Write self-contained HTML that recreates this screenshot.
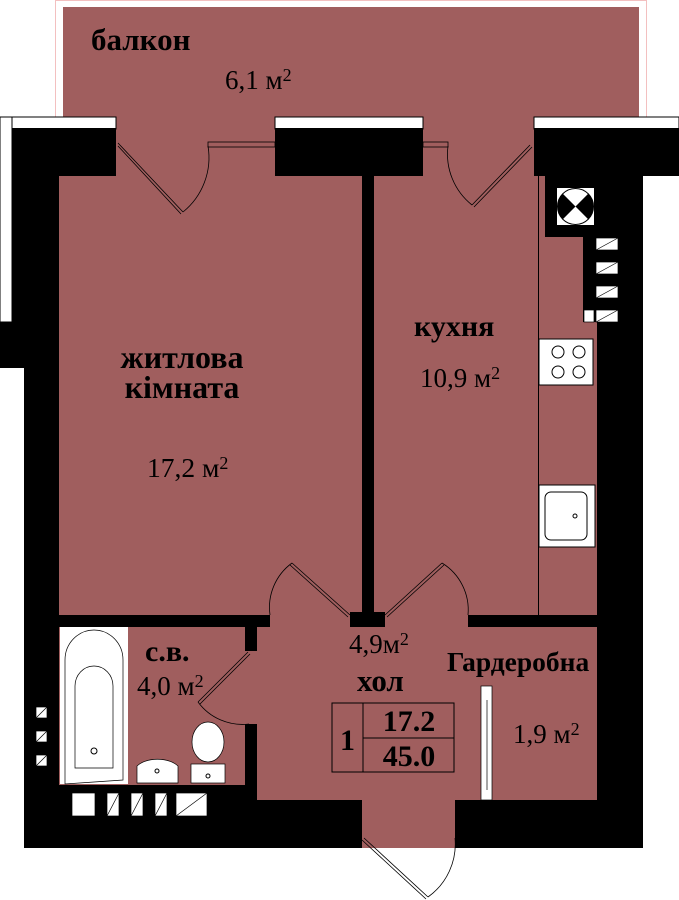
<!DOCTYPE html>
<html><head><meta charset="utf-8"><style>
html,body{margin:0;padding:0;background:#fff;width:679px;height:900px;overflow:hidden}
svg{display:block}
text{font-family:"Liberation Serif",serif;fill:#000}
.b{font-weight:bold}
</style></head><body>
<svg width="679" height="900" viewBox="0 0 679 900" xmlns="http://www.w3.org/2000/svg">
<rect x="55.5" y="0.5" width="591" height="118" fill="none" stroke="#f3c0c0" stroke-width="1"/>
<rect x="63" y="7" width="576" height="175" fill="#a05e5e"/>
<rect x="59" y="170" width="540" height="630" fill="#a05e5e"/>
<rect x="362" y="790" width="93" height="58" fill="#a05e5e"/>
<rect x="0" y="117" width="116" height="12" fill="#fff" stroke="#000"/>
<rect x="0" y="117" width="12" height="205" fill="#fff" stroke="#000"/>
<rect x="12" y="128" width="104" height="48" fill="#000"/>
<rect x="275" y="117" width="148" height="12" fill="#fff" stroke="#000"/>
<rect x="275" y="128" width="148" height="48" fill="#000"/>
<rect x="534" y="117" width="145" height="12" fill="#fff" stroke="#000"/>
<rect x="534" y="128" width="145" height="48" fill="#000"/>
<rect x="12" y="176" width="47" height="146" fill="#000"/>
<rect x="0" y="322" width="59" height="46" fill="#000"/>
<rect x="24" y="368" width="35" height="480" fill="#000"/>
<rect x="362" y="176" width="12" height="439" fill="#000"/>
<rect x="350" y="612" width="35" height="15" fill="#000"/>
<rect x="545" y="176" width="98" height="61" fill="#000"/>
<rect x="583" y="237" width="60" height="85" fill="#000"/>
<rect x="597" y="322" width="46" height="526" fill="#000"/>
<line x1="538.5" y1="176" x2="538.5" y2="615" stroke="#000"/>
<rect x="557" y="188" width="37" height="37" fill="#fff"/>
<circle cx="575.5" cy="206.5" r="18" fill="#fff" stroke="#000"/>
<path d="M562.8 193.8 L575.5 206.5 L562.8 219.2 A18 18 0 0 1 562.8 193.8 Z M588.2 193.8 L575.5 206.5 L588.2 219.2 A18 18 0 0 0 588.2 193.8 Z" fill="#000"/>
<g fill="#fff" stroke="#000" stroke-width="0.7">
<rect x="596" y="238" width="22" height="12"/><line x1="596" y1="250" x2="618" y2="238"/>
<rect x="596" y="262" width="22" height="12"/><line x1="596" y1="274" x2="618" y2="262"/>
<rect x="596" y="286" width="22" height="12"/><line x1="596" y1="298" x2="618" y2="286"/>
<rect x="596" y="310" width="22" height="12"/><line x1="596" y1="322" x2="618" y2="310"/>
<rect x="584" y="310" width="10" height="12"/>
</g>
<rect x="539" y="339" width="54" height="46" fill="#fff" stroke="#000"/>
<g fill="none" stroke="#000"><circle cx="558" cy="352" r="6"/><circle cx="579" cy="352" r="6"/><circle cx="558" cy="372" r="6"/><circle cx="579" cy="372" r="6"/></g>
<rect x="539" y="485" width="56" height="62" fill="#fff" stroke="#000"/>
<rect x="545" y="492" width="42" height="48" rx="6" fill="none" stroke="#000"/>
<circle cx="575" cy="516" r="2" fill="none" stroke="#000"/>
<rect x="59" y="615" width="211" height="12" fill="#000"/>
<rect x="245" y="627" width="12" height="24" fill="#000"/>
<rect x="245" y="724" width="12" height="76" fill="#000"/>
<rect x="468" y="615" width="130" height="12" fill="#000"/>
<rect x="24" y="785" width="233" height="63" fill="#000"/>
<rect x="257" y="800" width="105" height="48" fill="#000"/>
<rect x="455" y="800" width="188" height="48" fill="#000"/>
<g fill="#fff" stroke="#000" stroke-width="0.7">
<rect x="72" y="793" width="23" height="23"/>
<rect x="107" y="793" width="12" height="23"/><line x1="107" y1="816" x2="119" y2="793"/>
<rect x="131" y="793" width="12" height="23"/><line x1="131" y1="816" x2="143" y2="793"/>
<rect x="155" y="793" width="12" height="23"/><line x1="155" y1="816" x2="167" y2="793"/>
<rect x="176" y="793" width="31" height="23"/><line x1="176" y1="816" x2="207" y2="793"/>
<rect x="36" y="707" width="11" height="11"/><line x1="36" y1="718" x2="47" y2="707"/>
<rect x="36" y="731" width="11" height="11"/><line x1="36" y1="742" x2="47" y2="731"/>
<rect x="36" y="755" width="11" height="11"/><line x1="36" y1="766" x2="47" y2="755"/>
</g>
<rect x="60" y="627" width="68" height="157" fill="#fff"/>
<path d="M65 784 V660 A29 30 0 0 1 123 660 V780 Z" fill="none" stroke="#000" stroke-width="0.7"/>
<path d="M75 768 V686 A19 20 0 0 1 113 686 V768 Z" fill="none" stroke="#000" stroke-width="0.7"/>
<circle cx="94" cy="751" r="3" fill="none" stroke="#000"/>
<path d="M137 783 V766 A24 14 0 0 1 178 766 V783 Z" fill="#fff" stroke="#000" stroke-width="0.7"/>
<circle cx="157" cy="771" r="2" fill="none" stroke="#000"/>
<ellipse cx="208" cy="742" rx="16" ry="20" fill="#fff" stroke="#000" stroke-width="0.7"/>
<rect x="191" y="764" width="34" height="19" fill="#fff" stroke="#000" stroke-width="0.7"/>
<circle cx="208" cy="776" r="2" fill="none" stroke="#000"/>
<g fill="none" stroke="#000" stroke-width="0.8">
<path d="M118 143 L183 212 M118 146 L181 214"/>
<path d="M183 212 A70 70 0 0 0 208 146"/>
<rect x="208" y="142" width="67" height="5"/>
<rect x="423" y="142" width="25" height="5"/>
<path d="M530 145 L472 205 M532 147 L474 207"/>
<path d="M472 205 A65 65 0 0 1 448 146"/>
<path d="M350 615 L292 563 M348 617 L290 565"/>
<path d="M292 563 A55 55 0 0 0 270 615"/>
<path d="M385 615 L442 563 M387 617 L444 565"/>
<path d="M442 563 A55 55 0 0 1 468 615"/>
<path d="M248 652 L198 702 M250 654 L200 704"/>
<path d="M198 702 A55 55 0 0 0 249 724"/>
<path d="M364 838 L428 897 M362 840 L426 899"/>
<path d="M428 897 A65 65 0 0 0 455 838"/>
</g>
<rect x="481" y="686" width="11" height="114" fill="#fff" stroke="#000" stroke-width="0.7"/>
<line x1="487" y1="700" x2="487" y2="790" stroke="#000" stroke-width="0.7"/>
<g fill="none" stroke="#000" stroke-width="1">
<rect x="332" y="703" width="122" height="69"/>
<line x1="363" y1="703" x2="363" y2="772"/>
<line x1="363" y1="738" x2="454" y2="738"/>
</g>
<text x="91" y="50" font-size="31" class="b">балкон</text>
<text x="225" y="89" font-size="27">6,1 м<tspan font-size="18" dy="-8">2</tspan></text>
<text x="182" y="368" font-size="32" class="b" text-anchor="middle">житлова</text>
<text x="182" y="398" font-size="32" class="b" text-anchor="middle">кімната</text>
<text x="147" y="477" font-size="27.5">17,2 м<tspan font-size="18" dy="-8">2</tspan></text>
<text x="414" y="336" font-size="30" class="b">кухня</text>
<text x="420" y="387" font-size="27">10,9 м<tspan font-size="18" dy="-8">2</tspan></text>
<text x="145" y="661" font-size="30" class="b">с.в.</text>
<text x="137" y="695" font-size="27">4,0 м<tspan font-size="18" dy="-8">2</tspan></text>
<text x="349" y="653" font-size="27">4,9м<tspan font-size="18" dy="-8">2</tspan></text>
<text x="357" y="691" font-size="31" class="b">хол</text>
<text x="447" y="671" font-size="27.5" class="b">Гардеробна</text>
<text x="513" y="743" font-size="27">1,9 м<tspan font-size="18" dy="-8">2</tspan></text>
<text x="340" y="750" font-size="30" class="b">1</text>
<text x="409" y="731" font-size="30" class="b" text-anchor="middle">17.2</text>
<text x="409" y="766" font-size="30" class="b" text-anchor="middle">45.0</text>
</svg>
</body></html>
